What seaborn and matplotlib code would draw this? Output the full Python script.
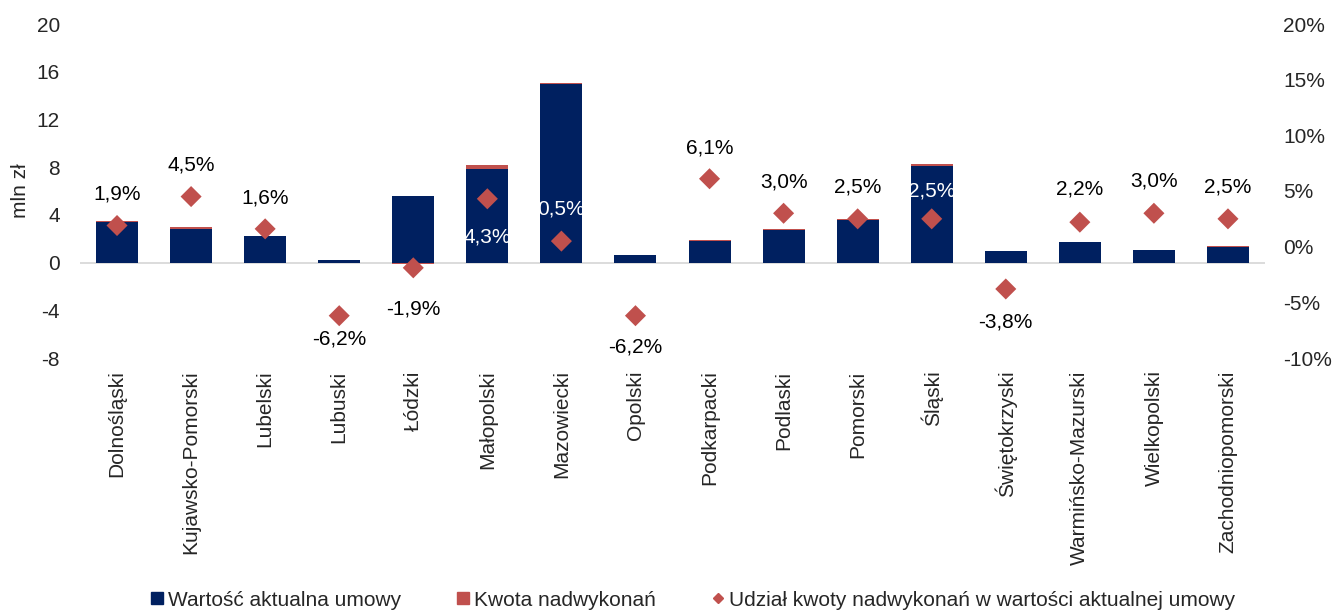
import numpy as np
import pandas as pd
import matplotlib
matplotlib.use("Agg")
import matplotlib.pyplot as plt
from matplotlib.lines import Line2D
import seaborn as sns

regions = ["Dolnośląski", "Kujawsko-Pomorski", "Lubelski", "Lubuski", "Łódzki",
           "Małopolski", "Mazowiecki", "Opolski", "Podkarpacki", "Podlaski",
           "Pomorski", "Śląski", "Świętokrzyski", "Warmińsko-Mazurski",
           "Wielkopolski", "Zachodniopomorski"]
wartosc = [3.43, 2.85, 2.20, 0.23, 5.60, 7.85, 14.95, 0.65, 1.80, 2.75,
           3.60, 8.10, 0.98, 1.72, 1.03, 1.34]
kwota = [0.065, 0.13, 0.035, -0.014, -0.10, 0.34, 0.08, -0.04, 0.11, 0.08,
         0.09, 0.20, -0.04, 0.04, 0.03, 0.035]
udzial = [1.9, 4.5, 1.6, -6.2, -1.9, 4.3, 0.5, -6.2, 6.1, 3.0,
          2.5, 2.5, -3.8, 2.2, 3.0, 2.5]
left_ticks = [-8, -4, 0, 4, 8, 12, 16, 20]
right_ticks = [-10, -5, 0, 5, 10, 15, 20]

# label styling (offset in pixels from the diamond, text colour)
label_offsets = [32, 32, 31, -23, -41, -38, 32, -31, 31, 31, 32, 28, -33, 33, 32, 32]
label_colors = ["black"] * 16
label_colors[5] = "white"
label_colors[6] = "white"
label_colors[11] = "white"

NAVY = "#002060"
RED = "#C0504D"

sns.set_theme(style="white")
plt.rcParams["font.family"] = ["Liberation Sans", "DejaVu Sans"]
FS = 15

df = pd.DataFrame({"region": regions, "wartosc": wartosc, "kwota": kwota, "udzial": udzial})
df["red_top"] = np.where(df["kwota"] > 0, df["wartosc"] + df["kwota"], df["kwota"])
df["pos"] = np.arange(len(df))

fig = plt.figure(figsize=(13.32, 6.11), dpi=100)
ax = fig.add_axes([80 / 1332, 1 - 358 / 611, (1265 - 80) / 1332, (358 - 24) / 611])

sns.barplot(data=df, x="region", y="red_top", color=RED, saturation=1, width=0.567,
            ax=ax, linewidth=0)
sns.barplot(data=df, x="region", y="wartosc", color=NAVY, saturation=1, width=0.567,
            ax=ax, linewidth=0)

ax.set_ylim(-8, 20)
ax.set_xlim(-0.5, len(regions) - 0.5)
ax.set_yticks(left_ticks)
ax.set_yticklabels([str(t) for t in left_ticks], fontsize=FS)
ax.axhline(0, color="#D9D9D9", lw=1.3, zorder=0.5)
ax.set_xlabel("")
ax.set_ylabel("mln zł", fontsize=FS, labelpad=5)
ax.set_xticks(range(len(regions)))
ax.set_xticklabels(regions, rotation=90, fontsize=FS)
ax.tick_params(axis="x", length=0, pad=9)
ax.tick_params(axis="y", length=0, pad=14.5)
for s in ax.spines.values():
    s.set_visible(False)

ax2 = ax.twinx()
sns.scatterplot(data=df, x="pos", y="udzial", marker="D", s=115, color=RED,
                edgecolor="none", ax=ax2, zorder=5, legend=False)
ax2.set_ylim(-10, 20)
ax2.set_yticks(right_ticks)
ax2.set_yticklabels([f"{t}%" for t in right_ticks], fontsize=FS)
ax2.set_ylabel("")
ax2.tick_params(axis="y", length=0, pad=13)
for s in ax2.spines.values():
    s.set_visible(False)

for i, (v, off, c) in enumerate(zip(udzial, label_offsets, label_colors)):
    ax2.annotate(f"{v:.1f}%".replace(".", ","), (i, v), xytext=(0, off),
                 textcoords="offset pixels", ha="center", va="center",
                 fontsize=FS, color=c, zorder=6)

handles = [
    Line2D([], [], marker="s", ls="none", color=NAVY, markersize=8),
    Line2D([], [], marker="s", ls="none", color=RED, markersize=8),
    Line2D([], [], marker="D", ls="none", color=RED, markersize=5),
]
labels = ["Wartość aktualna umowy", "Kwota nadwykonań",
          "Udział kwoty nadwykonań w wartości aktualnej umowy"]
fig.legend(handles, labels, loc="center", bbox_to_anchor=(693 / 1332, 1 - 600 / 611),
           ncol=3, frameon=False, fontsize=FS, handlelength=0.6, handletextpad=0.2,
           columnspacing=2.7)

fig.savefig("out.png", dpi=100)
